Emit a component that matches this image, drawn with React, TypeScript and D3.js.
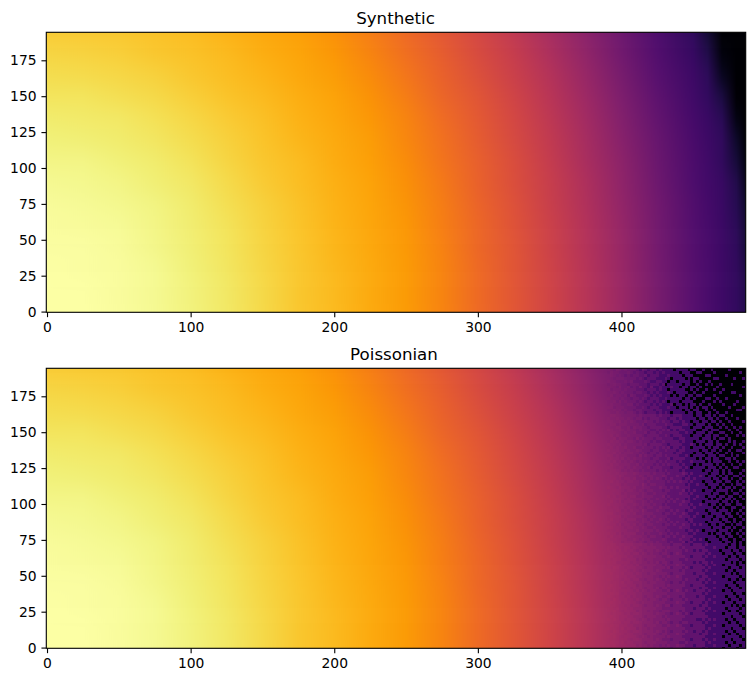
import { useEffect, useRef } from 'react';
import * as d3 from 'd3';

const WIDTH = 755;
const HEIGHT = 682;
const PANEL_LEFT = 46.3;
const PANEL_RIGHT = 745.7;

const xTicks = [0, 100, 200, 300, 400];
const yTicks = [0, 25, 50, 75, 100, 125, 150, 175];

// colormap position (percent)
const stopX = [0, 25, 50, 75, 100, 125, 150, 175, 200, 225, 250, 275, 300, 325, 350, 375, 400, 425, 450, 460, 470, 480, 487];
const rowY = [0, 15, 30, 45, 60, 75, 90, 105, 120, 135, 150, 165, 180, 195];
const levels = [
  [100, 99.8, 99.2, 98, 96, 93.6, 90.5, 87, 84, 81, 78, 73, 67, 61.5, 55.5, 49, 41.5, 33, 25, 22.2, 19.4, 16.6, 13],
  [99.9, 99.7, 99.1, 97.9, 95.9, 93.5, 90.4, 86.9, 84, 81, 78, 73, 67, 61.5, 55.5, 49, 41.5, 33, 25, 22.2, 19.4, 16.6, 13],
  [99.8, 99.5, 98.9, 97.7, 95.7, 93.2, 90.2, 86.8, 83.8, 80.9, 77.8, 72.8, 66.8, 61.3, 55.2, 48.7, 41.2, 32.7, 24.7, 21.9, 19.1, 16.3, 12],
  [99.5, 99.3, 98.5, 97.2, 95.3, 92.9, 89.8, 86.5, 83.5, 80.6, 77.4, 72.3, 66.3, 61, 55, 48.4, 40.8, 32.4, 24.4, 21.6, 18.8, 16, 10],
  [99.1, 98.8, 98.1, 96.7, 94.8, 92.4, 89.2, 86, 83.2, 80.3, 77, 71.8, 66.1, 60.5, 54.5, 47.8, 40.5, 32, 24, 21.2, 18.4, 15, 9],
  [98.5, 98.2, 97.4, 96.1, 94.2, 91.6, 88.7, 85.6, 82.8, 79.9, 76.4, 71.1, 65.4, 60.1, 53.9, 47.2, 39.8, 31.4, 23.6, 20.8, 18, 14, 7.8],
  [97.8, 97.4, 96.6, 95.2, 93.4, 90.9, 87.8, 85, 82.2, 79.4, 75.6, 70.4, 64.8, 59.3, 53.2, 46.6, 38.8, 30.8, 23, 20.2, 17.6, 13, 5],
  [96.7, 96.5, 95.6, 94.3, 92.4, 89.8, 87, 84.4, 81.6, 78.8, 74.8, 69.4, 64.1, 58.6, 52.4, 45.7, 38.1, 29.8, 22.5, 19.7, 16.3, 10, 2.5],
  [95.6, 95.3, 94.5, 93.2, 91.2, 88.7, 86, 83.5, 81, 78.2, 73.8, 68.4, 63, 57.7, 51.6, 44.8, 37.1, 29, 21.6, 18.8, 16.2, 7.8, 0],
  [94.4, 94.1, 93.4, 91.9, 90, 87.6, 85.2, 82.8, 80.2, 77.2, 72.8, 67.2, 62.2, 56.7, 50.6, 43.6, 35.7, 27.9, 20.8, 18, 14.5, 3.5, 0],
  [92.9, 92.6, 91.7, 90.4, 88.4, 86.3, 84.1, 81.7, 79.3, 76, 71.3, 65.9, 61, 55.5, 49.3, 42.4, 34.4, 26.6, 19.7, 16.7, 11, 0.7, 0],
  [91.2, 91, 90.2, 88.8, 87, 85.1, 83, 80.8, 78.5, 74.6, 69.9, 64.8, 59.6, 54.2, 48.1, 40.8, 33, 25.3, 18.8, 15.3, 5.5, 0, 0],
  [89.5, 89.2, 88.4, 87.1, 85.7, 84, 82, 79.8, 77.2, 73, 68.2, 63.5, 58.1, 52.8, 46.3, 39.1, 31.4, 24.2, 17.2, 12.5, 2, 0, 0],
  [87.7, 87.4, 86.8, 85.7, 84.4, 82.7, 80.8, 78.7, 75.6, 71.1, 66.6, 61.9, 56.7, 51.1, 44.8, 37.5, 30.1, 23, 16, 9, 0, 0, 0],
];

// counts in the grainy right part of the lower panel, base 36, top row first
const grainX = d3.range(391, 487, 2);
const grainY = d3.range(193.5, -1, -2);
const grainRows = [
  '44354343 33213212 21211110 11110110 01001000 00100000',
  '35443334 32322122 12121111 10111001 10000100 00000010',
  '45434323 23322312 22111211 11011100 00110000 01000000',
  '44344433 33232122 21112101 11101011 00000110 00001001',
  '54433343 42222321 12211011 01111010 10010000 00000000',
  '34544332 33322212 22120111 11011001 00101001 00010000',
  '44435334 23242213 11211121 10110110 10000010 00000001',
  '53444343 33222122 21211011 11100101 00100100 10000000',
  '44543433 32332212 12111210 11110010 01000001 00011000',
  '45344342 43222321 21211101 01101101 10000100 00000010',
  '54443433 23323212 22112111 11011010 00110010 01000000',
  '44535343 33232122 12121011 10111100 01000101 00000100',
  '45444334 42322221 21211120 11010110 10010000 10001000',
  '55344433 33223212 22111211 01110101 01101000 00100001',
  '44545343 32332222 12211111 11011011 00100100 00000110',
  '54454434 43232122 21212101 11101101 10010010 01000000',
  '56655444 44343333 32322212 22111101 10110101 10010000',
  '65565545 43442323 33222122 12111110 11011010 01000100',
  '66556454 54333433 23232212 21211011 01101101 00100001',
  '56645554 44434233 32223221 11221101 11010010 10010000',
  '65566445 35443323 33322122 22111011 10111001 01001010',
  '76556545 44343332 23232312 12211110 01101110 00100100',
  '66655454 45333423 32322222 21121101 11011001 10010010',
  '67565445 44443233 33223212 22111011 10110110 01000101',
  '66746554 43534333 23322221 12211111 01110101 10100000',
  '57665545 54343332 32232222 21211101 11011010 00101001',
  '76656454 44443423 33322122 22111210 10111011 01001010',
  '67565564 45334333 23232312 21211011 11010110 10010001',
  '76665545 44543332 33223222 12211111 01101101 00100110',
  '66756455 54434323 32322221 22111101 10111010 01010001',
  '77565554 44353433 23323222 21121011 11011101 10010100',
  '67665645 45443332 33222312 22211110 10110110 01101000',
  '76756454 54343433 32323222 12111211 11010111 00100101',
  '68665555 44534333 23232322 21211101 01111010 10010010',
  '77656545 45443342 33322212 22121011 11011101 01001100',
  '67766454 54434333 32323222 21211111 10110110 10100001',
  '87776665 56544443 43332322 22321211 11101110 10110010',
  '88768655 55454344 33343222 32212111 21011101 01001101',
  '78867566 56445434 34323232 22122121 11110110 11010010',
  '89776656 65544343 33332323 23221211 10111011 01100101',
  '87787565 55546434 43332222 22212112 11011110 10010110',
  '98768666 56445443 33433232 32222111 11101101 01101001',
  '78877656 65454344 33323322 22312121 10111011 11010010',
  '88787565 55545433 43333222 23221211 11110110 01001101',
  '97867665 66445444 33342322 22222112 11011101 10110010',
  '88778656 55554343 34333232 32212121 11101011 01101001',
  '89768566 65445434 33332323 22322111 10111110 11010100',
  '98777665 56545443 43323222 23221211 21101101 01100110',
  '87876656 55454344 33433322 22222121 11111010 10011001',
  '88787565 65546433 34332232 32212211 11011101 11010010',
  '99767666 56445444 33323323 22321112 11101111 01100101',
  '88878565 55554343 43333222 23222121 10111011 10110010',
  '89777656 66445434 33432322 22212211 11110110 11001001',
  '98786665 55545443 34333232 32221211 11011111 01101010',
  '88868566 56454344 33323323 22322121 21101101 10010110',
  '99777656 65545433 43333222 23222111 11110111 01101001',
  '88787665 55644444 34332322 22212212 10111101 11010010',
  '98868566 66445343 33433232 32221121 11101011 01100101',
  '89778656 55554434 43323323 22322211 11111101 10110010',
  '98877665 56545443 33343222 23222121 21011110 11001001',
  '99787566 65454344 34333232 22312211 11101111 01101010',
  '9a988877 76665545 44433323 33222122 21211111 11011010',
  'aa998788 67655555 54443433 32322222 22111211 10111011',
  'a9a89787 76565455 45434333 33232212 12211110 11101101',
  '9aa98878 67756545 44344323 43222222 22121111 01110110',
  'ab999887 76665555 54433433 33322122 21211211 11011011',
  'a9a99778 77565455 44443333 32232222 22111111 10111101',
  'baa88888 67665545 45344323 33222212 12212111 11101010',
  'aa999787 76755555 54434333 43322222 21211211 01111011',
  'a9ba8878 77665455 44443423 33232122 22121111 11011101',
  'baa98887 67656555 45433333 32322222 21211111 10110111',
  'ab998978 76765545 54444323 33322212 22111211 11101011',
  'aa9a8887 77665555 44343433 43222222 12211111 01111101',
  'ba998788 67755455 45434333 33232221 22121111 11011010',
  'a9a98978 76665545 54443323 32322222 21211211 11110111',
  'aba98887 77565555 44443433 33322122 22111111 10111011',
  'baa99778 67665455 45344333 33222222 12211211 11011101',
  'a9a98888 76756545 54433423 43232212 22121111 01101111',
  'abaa8787 77665555 44444333 33322222 21211111 11110110',
  'ba998878 67665455 45433433 32322221 22111211 10111011',
  'a9b98887 76765545 54344323 33232222 22121111 11011101',
  'aba99788 77656555 44443333 43322122 21211211 01110111',
  'baa98878 67765455 45434423 33222222 12211111 11101010',
  'aa9a8887 76665555 54433333 33322212 22121111 10111101',
  'bab98788 77565545 44344433 32322222 21211211 11011011',
  'a9a99878 67765555 45443323 43232122 22111111 01111101',
  'aba98887 76665455 54434333 33322222 22211111 11101110',
  'bab98878 77656545 44443433 33222221 12121211 10110111',
  'aa999788 67765555 45344323 32332222 21211111 11011011',
  'abaa8887 76665455 54433433 43222122 22111211 01111101',
  'baa98978 77565545 44444333 33322222 22121111 11101110',
  'a9ba8887 67765555 45434323 33232212 21211111 10110111',
  'aba99878 76665455 54344333 43322222 12211211 11011011',
  'bab98788 77656545 44443433 33222222 22111111 01111101',
  'aaa98887 67765555 45433323 33322122 21211211 11101110',
  'abaa8978 76665455 54444333 32232222 22121111 10110111',
  'bab98887 77565545 44343433 43322212 22111211 11011101',
  'a9a99878 67765555 45434323 33222222 21211111 01111011',
];

const x = d3.scaleLinear().domain([-0.5, 486.5]).range([PANEL_LEFT, PANEL_RIGHT]);
const countToPos = d3.scaleLog().domain([1, 1625]).range([0.2, 1]);
// grain fades into the smooth base towards its left edge
const grainOpacity = d3.scaleLinear().domain([391, 450]).range([0.3, 1]).clamp(true);

function Panel({ id, title, top, titleX, grainy }: { id: string; title: string; top: number; titleX: number; grainy: boolean }) {
  const axisRef = useRef<SVGGElement>(null);
  const bottom = top + 280;
  const y = d3.scaleLinear().domain([-0.5, 194.5]).range([bottom, top]);

  useEffect(() => {
    if (!axisRef.current) return;
    const g = d3.select(axisRef.current);
    g.selectAll('*').remove();
    const tick = 4.86;
    g.append('g')
      .attr('transform', `translate(0,${bottom})`)
      .call(d3.axisBottom(x).tickValues(xTicks).tickSize(tick).tickPadding(4.86).tickFormat(d3.format('d') as any));
    g.append('g')
      .attr('transform', `translate(${PANEL_LEFT},0)`)
      .call(d3.axisLeft(y).tickValues(yTicks).tickSize(tick).tickPadding(4.86).tickFormat(d3.format('d') as any));
    g.selectAll('.domain').remove();
    g.selectAll('line').attr('stroke', '#000').attr('stroke-width', 1.11);
    g.selectAll('text').attr('fill', '#000').attr('font-size', 13.89).attr('font-family', 'DejaVu Sans');
  }, [bottom]);

  return (
    <g>
      <defs>
        <clipPath id={`${id}-clip`}>
          <rect x={PANEL_LEFT} y={top} width={PANEL_RIGHT - PANEL_LEFT} height={280} />
        </clipPath>
        <filter
          id={`${id}-soft`}
          filterUnits="userSpaceOnUse"
          x={0}
          y={top - 60}
          width={WIDTH}
          height={400}
          colorInterpolationFilters="sRGB"
        >
          <feGaussianBlur stdDeviation="0 9" />
        </filter>
        {levels.map((row, i) => (
          <linearGradient
            key={i}
            id={`${id}-row-${i}`}
            gradientUnits="userSpaceOnUse"
            x1={x(0)}
            x2={x(487)}
            y1={0}
            y2={0}
          >
            {row.map((v, j) => (
              <stop key={j} offset={stopX[j] / 487} stopColor={d3.interpolateInferno(v / 100)} />
            ))}
          </linearGradient>
        ))}
      </defs>
      <g clipPath={`url(#${id}-clip)`}>
        <g filter={`url(#${id}-soft)`}>
          {levels.map((_, i) => {
            // first and last rows run past the frame so the softening keeps the edge colour
            const y0 = i === rowY.length - 1 ? top - 40 : y(rowY[i] + 7.5);
            const y1 = i === 0 ? bottom + 40 : y(rowY[i] - 7.5);
            return (
              <rect
                key={i}
                x={PANEL_LEFT - 5}
                y={y0}
                width={PANEL_RIGHT - PANEL_LEFT + 10}
                height={y1 - y0 + 0.5}
                fill={`url(#${id}-row-${i})`}
              />
            );
          })}
        </g>
        {grainy &&
          grainRows.map((row, i) =>
            row
              .replace(/ /g, '')
              .split('')
              .map((c, j) => {
                const n = parseInt(c, 36);
                return (
                  <rect
                    key={`${i}-${j}`}
                    x={x(grainX[j] - 1)}
                    y={y(grainY[i] + 1)}
                    width={x(grainX[j] + 1) - x(grainX[j] - 1)}
                    height={y(grainY[i] - 1) - y(grainY[i] + 1)}
                    fill={n === 0 ? d3.interpolateInferno(0) : d3.interpolateInferno(countToPos(n))}
                    fillOpacity={n === 0 ? 1 : grainOpacity(grainX[j])}
                    shapeRendering="crispEdges"
                  />
                );
              }),
          )}
      </g>
      <rect
        x={PANEL_LEFT}
        y={top}
        width={PANEL_RIGHT - PANEL_LEFT}
        height={280}
        fill="none"
        stroke="#000"
        strokeWidth={1.11}
      />
      <g ref={axisRef} />
      <text x={titleX} y={top - 8.3} textAnchor="middle" fontSize={16.67} fontFamily="DejaVu Sans" fill="#000">
        {title}
      </text>
    </g>
  );
}

export default function App() {
  return (
    <svg width={WIDTH} height={HEIGHT} style={{ position: 'absolute', left: 0, top: 0, background: '#fff' }}>
      <Panel id="synthetic" title="Synthetic" top={32.3} titleX={395.5} grainy={false} />
      <Panel id="poissonian" title="Poissonian" top={368.3} titleX={394} grainy={true} />
    </svg>
  );
}
